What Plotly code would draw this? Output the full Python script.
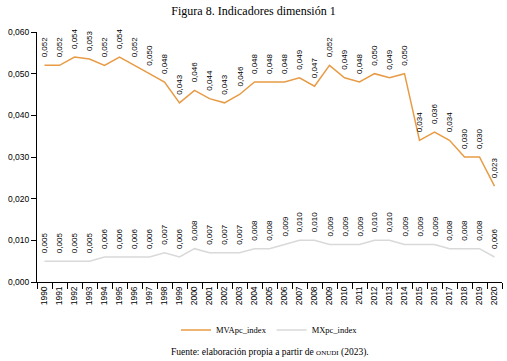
import plotly.graph_objects as go

years = [str(y) for y in range(1990, 2021)]
mvapc = [0.052, 0.052, 0.054, 0.0535, 0.052, 0.054, 0.052, 0.050, 0.048, 0.043,
         0.046, 0.044, 0.043, 0.045, 0.048, 0.048, 0.048, 0.049, 0.047, 0.052,
         0.049, 0.048, 0.050, 0.049, 0.050, 0.034, 0.036, 0.034, 0.030, 0.030, 0.023]
mvapc_lbl = ["0,052", "0,052", "0,054", "0,053", "0,052", "0,054", "0,052", "0,050", "0,048", "0,043",
             "0,046", "0,044", "0,043", "0,046", "0,048", "0,048", "0,048", "0,049", "0,047", "0,052",
             "0,049", "0,048", "0,050", "0,049", "0,050", "0,034", "0,036", "0,034", "0,030", "0,030", "0,023"]
mxpc = [0.005, 0.005, 0.005, 0.005, 0.006, 0.006, 0.006, 0.006, 0.007, 0.006,
        0.008, 0.007, 0.007, 0.007, 0.008, 0.008, 0.009, 0.010, 0.010, 0.009,
        0.009, 0.009, 0.010, 0.010, 0.009, 0.009, 0.009, 0.008, 0.008, 0.008, 0.006]
mxpc_lbl = ["0,005", "0,005", "0,005", "0,005", "0,006", "0,006", "0,006", "0,006", "0,007", "0,006",
            "0,008", "0,007", "0,007", "0,007", "0,008", "0,008", "0,009", "0,010", "0,010", "0,009",
            "0,009", "0,009", "0,010", "0,010", "0,009", "0,009", "0,009", "0,008", "0,008", "0,008", "0,006"]

ORANGE = "#E89B45"
GRAY = "#D9D9D9"
SANS = "Liberation Sans"
SERIF = "Liberation Serif"

fig = go.Figure()
fig.add_trace(go.Scatter(x=years, y=mvapc, mode="lines", name="MVApc_index",
                         line=dict(color=ORANGE, width=1.5)))
fig.add_trace(go.Scatter(x=years, y=mxpc, mode="lines", name="MXpc_index",
                         line=dict(color=GRAY, width=1.5)))

anns = []
for series, labels in ((mvapc, mvapc_lbl), (mxpc, mxpc_lbl)):
    for i, (v, t) in enumerate(zip(series, labels)):
        anns.append(dict(x=i, y=v, xref="x", yref="y", text=t, showarrow=False,
                         textangle=-90, xanchor="center", yanchor="bottom", yshift=6,
                         font=dict(family=SANS, size=8, color="#000000")))

anns.append(dict(x=0.5, y=-0.28, xref="paper", yref="paper", showarrow=False,
                 text="Fuente: elaboración propia a partir de <span style='font-size:7px'>ONUDI</span> (2023).",
                 font=dict(family=SERIF, size=9.5, color="#000000"),
                 xanchor="center", yanchor="middle"))

fig.update_layout(
    width=507, height=361,
    margin=dict(l=37, r=5, t=32, b=79),
    paper_bgcolor="white", plot_bgcolor="white",
    separators=",.",
    title=dict(text="Figura 8. Indicadores dimensión 1", x=0.5, xanchor="center",
               y=1 - 11 / 361, yanchor="middle",
               font=dict(family=SERIF, size=12, color="#000000")),
    showlegend=True,
    legend=dict(orientation="h", x=0.5, xanchor="center", y=1 - 330 / 361, yref="container",
                yanchor="middle", font=dict(family=SERIF, size=8.5, color="#000000"),
                itemwidth=30, tracegroupgap=0),
    annotations=anns,
    xaxis=dict(type="category", tickson="boundaries", ticks="outside", ticklen=6,
               range=[-0.5, len(years) - 0.5], automargin=False,
               tickcolor="#000000", showline=True, linecolor="#000000", linewidth=1,
               showgrid=False, tickangle=-90,
               tickfont=dict(family=SANS, size=8.5, color="#000000")),
    yaxis=dict(range=[0, 0.06], dtick=0.01, tickformat=".3f", ticks="outside", ticklen=5,
               automargin=False,
               tickcolor="#000000", showline=True, linecolor="#000000", linewidth=1,
               showgrid=False, zeroline=False,
               tickfont=dict(family=SANS, size=8.5, color="#000000")),
)

fig.write_html("out.html", config={"displayModeBar": False},
               post_script="document.body.style.margin='0';document.body.style.overflow='hidden';")
